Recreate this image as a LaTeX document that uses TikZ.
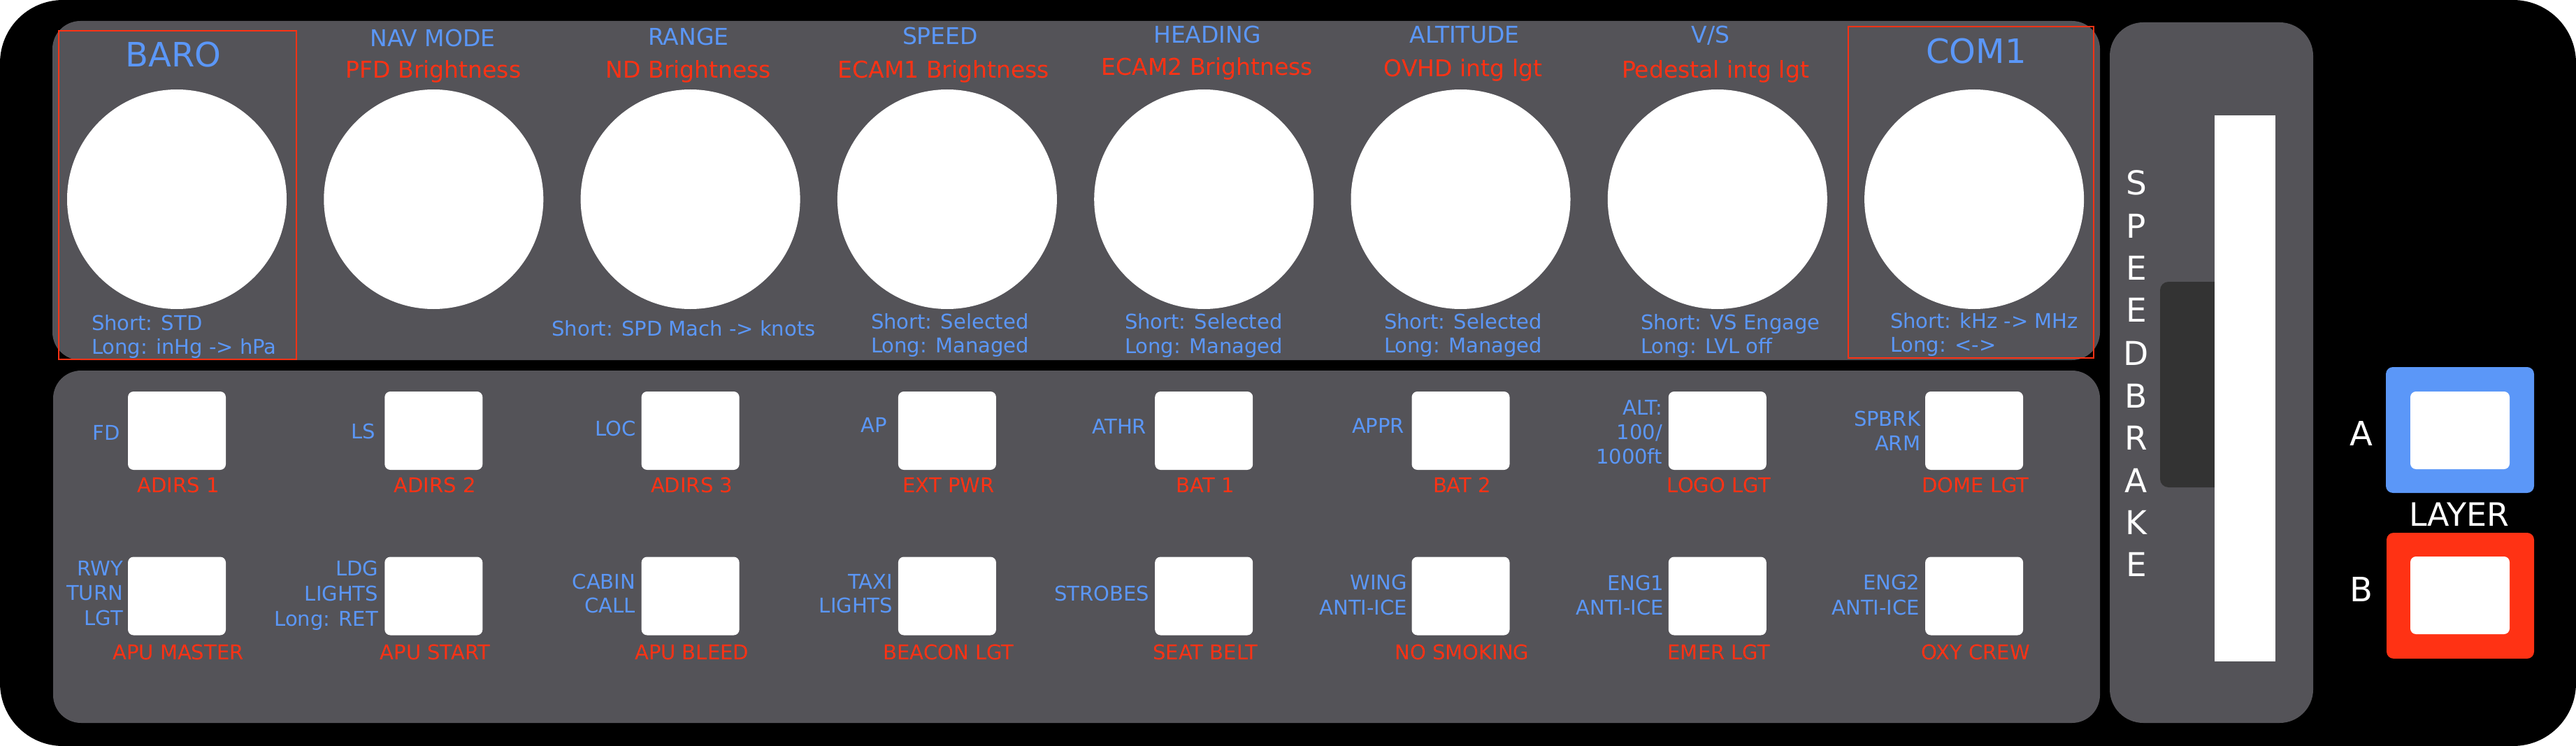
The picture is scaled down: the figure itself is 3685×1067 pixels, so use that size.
\documentclass[tikz,border=0pt]{standalone}
\usepackage{fontspec}
\setmainfont{DejaVu Sans}
\definecolor{panel}{HTML}{545358}
\definecolor{lblue}{HTML}{5B97F8}
\definecolor{lred}{HTML}{FF3214}
\definecolor{slot}{HTML}{333333}
\begin{document}
\begin{tikzpicture}[x=1pt,y=-1pt,
  txt/.style={inner sep=0pt,outer sep=0pt},
  bl/.style={txt,text=lblue,font=\fontsize{29}{35}\selectfont},
  rd/.style={txt,text=lred,font=\fontsize{29}{35}\selectfont},
  bltitle/.style={txt,text=lblue,font=\fontsize{33}{40}\selectfont},
  rdtitle/.style={txt,text=lred,font=\fontsize{33}{40}\selectfont},
  bigtitle/.style={txt,text=lblue,font=\fontsize{48}{56}\selectfont},
  whitetxt/.style={txt,text=white,font=\fontsize{47}{56}\selectfont},
  knob/.style={circle,fill=white,minimum size=314pt,inner sep=0pt},
  btn/.style={rectangle,fill=white,minimum width=140pt,minimum height=112pt,rounded corners=8pt,inner sep=0pt},
  panelbox/.style={fill=panel,rounded corners=40pt},
  frame/.style={draw=lred,line width=2.5pt}]
\useasboundingbox (0,0) rectangle (3685,1067);
\fill[white] (0,0) rectangle (3685,1067);
\fill[black,rounded corners=90pt] (0,0) rectangle (3685,1067);
% panels
\fill[panelbox] (75,30) rectangle (3004,515);
\fill[panelbox] (76,530) rectangle (3004,1034);
\fill[panel,rounded corners=48pt] (3018,32) rectangle (3309,1034);
% speedbrake
\fill[slot,rounded corners=12pt] (3090,403) rectangle (3190,697);
\fill[white] (3168,165) rectangle (3255,946);
\foreach \l/\y [count=\n] in {S/279,P/340,E/400,E/460,D/522,B/583,R/643,A/704,K/764,E/824}{
  \node[whitetxt,anchor=base] (sb\n) at (3056,\y) {\l};
}
% knobs and buttons
\foreach \i in {0,...,7}{
  \pgfmathsetmacro\cx{253+367.3*\i}
  \node[knob] (k\i) at (\cx,285) {};
  \node[btn] (ba\i) at (\cx,616) {};
  \node[btn] (bb\i) at (\cx,852.5) {};
}
% red frames
\draw[frame] (84,44) rectangle (424,514);
\draw[frame] (2644,38) rectangle (2995,512);
% knob titles
\node[bigtitle,anchor=base] (t0) at (248,96) {BARO};
\node[bigtitle,anchor=base] (t7) at (2827,91) {COM1};
\node[bltitle,anchor=base] (t1a) at (619,67) {NAV MODE};
\node[rdtitle,anchor=base] (t1b) at (620,112) {PFD Brightness};
\node[bltitle,anchor=base] (t2a) at (985,65) {RANGE};
\node[rdtitle,anchor=base] (t2b) at (985,112) {ND Brightness};
\node[bltitle,anchor=base] (t3a) at (1345,64) {SPEED};
\node[rdtitle,anchor=base] (t3b) at (1350,112) {ECAM1 Brightness};
\node[bltitle,anchor=base] (t4a) at (1727,62) {HEADING};
\node[rdtitle,anchor=base] (t4b) at (1727,108) {ECAM2 Brightness};
\node[bltitle,anchor=base] (t5a) at (2095,62) {ALTITUDE};
\node[rdtitle,anchor=base] (t5b) at (2093,110) {OVHD intg lgt};
\node[bltitle,anchor=base] (t6a) at (2447,62) {V/S};
\node[rdtitle,anchor=base] (t6b) at (2454,112) {Pedestal intg lgt};
% knob short/long
\node[bl,anchor=base west] (s0) at (131,472) {Short: STD};
\node[bl,anchor=base west] (l0) at (131,506) {Long: inHg -> hPa};
\node[bl,anchor=base] (s2) at (978,480) {Short: SPD Mach -> knots};
\node[bl,anchor=base west] (s3) at (1246,470) {Short: Selected};
\node[bl,anchor=base west] (l3) at (1246,504) {Long: Managed};
\node[bl,anchor=base west] (s4) at (1609,470) {Short: Selected};
\node[bl,anchor=base west] (l4) at (1609,505) {Long: Managed};
\node[bl,anchor=base west] (s5) at (1980,470) {Short: Selected};
\node[bl,anchor=base west] (l5) at (1980,504) {Long: Managed};
\node[bl,anchor=base west] (s6) at (2347,471) {Short: VS Engage};
\node[bl,anchor=base west] (l6) at (2347,505) {Long: LVL off};
\node[bl,anchor=base west] (s7) at (2704,469) {Short: kHz -> MHz};
\node[bl,anchor=base west] (l7) at (2704,503) {Long: <->};
% red button labels
\foreach \i/\t in {0/ADIRS 1,1/ADIRS 2,2/ADIRS 3,3/EXT PWR,4/BAT 1,5/BAT 2,6/LOGO LGT,7/DOME LGT}{
  \pgfmathsetmacro\cx{255+367.3*\i}
  \node[rd,anchor=base] (ra\i) at (\cx,704) {\t};
}
\foreach \i/\t in {0/APU MASTER,1/APU START,2/APU BLEED,3/BEACON LGT,4/SEAT BELT,5/NO SMOKING,6/EMER LGT,7/OXY CREW}{
  \pgfmathsetmacro\cx{255+367.3*\i}
  \node[rd,anchor=base] (rb\i) at (\cx,943) {\t};
}
% blue button labels row 1
\node[bl,anchor=base east] (fa0) at (172,629) {FD};
\node[bl,anchor=base east] (fa1) at (537,627) {LS};
\node[bl,anchor=base east] (fa2) at (910,623) {LOC};
\node[bl,anchor=base east] (fa3) at (1269,618) {AP};
\node[bl,anchor=base east] (fa4) at (1640,620) {ATHR};
\node[bl,anchor=base east] (fa5) at (2009,619) {APPR};
\node[bl,anchor=base east] (fa6a) at (2378,593) {ALT:};
\node[bl,anchor=base east] (fa6b) at (2378,628) {100/};
\node[bl,anchor=base east] (fa6c) at (2378,663) {1000ft};
\node[bl,anchor=base east] (fa7a) at (2747,609) {SPBRK};
\node[bl,anchor=base east] (fa7b) at (2747,644) {ARM};
% blue button labels row 2
\node[bl,anchor=base east] (fb0a) at (176,823) {RWY};
\node[bl,anchor=base east] (fb0b) at (176,858) {TURN};
\node[bl,anchor=base east] (fb0c) at (176,894) {LGT};
\node[bl,anchor=base east] (fb1a) at (541,823) {LDG};
\node[bl,anchor=base east] (fb1b) at (541,859) {LIGHTS};
\node[bl,anchor=base east] (fb1c) at (541,895) {Long: RET};
\node[bl,anchor=base east] (fb2a) at (909,842) {CABIN};
\node[bl,anchor=base east] (fb2b) at (909,876) {CALL};
\node[bl,anchor=base east] (fb3a) at (1277,842) {TAXI};
\node[bl,anchor=base east] (fb3b) at (1277,876) {LIGHTS};
\node[bl,anchor=base east] (fb4) at (1644,859) {STROBES};
\node[bl,anchor=base east] (fb5a) at (2013,843) {WING};
\node[bl,anchor=base east] (fb5b) at (2013,879) {ANTI-ICE};
\node[bl,anchor=base east] (fb6a) at (2380,844) {ENG1};
\node[bl,anchor=base east] (fb6b) at (2380,879) {ANTI-ICE};
\node[bl,anchor=base east] (fb7a) at (2746,843) {ENG2};
\node[bl,anchor=base east] (fb7b) at (2746,879) {ANTI-ICE};
% layer buttons
\fill[lblue,rounded corners=10pt] (3413,525) rectangle (3625,705);
\node[btn,minimum width=142pt,minimum height=111pt] (la) at (3519,615.5) {};
\fill[lred,rounded corners=10pt] (3414,762) rectangle (3625,942);
\node[btn,minimum width=142pt,minimum height=111pt] (lb) at (3519,851.5) {};
\node[whitetxt,font=\fontsize{48}{56}\selectfont,anchor=base] (lA) at (3378,637) {A};
\node[whitetxt,font=\fontsize{48}{56}\selectfont,anchor=base] (lB) at (3378,860) {B};
\node[whitetxt,font=\fontsize{46}{56}\selectfont,anchor=base] (lay) at (3518,752) {LAYER};
\end{tikzpicture}
\end{document}
